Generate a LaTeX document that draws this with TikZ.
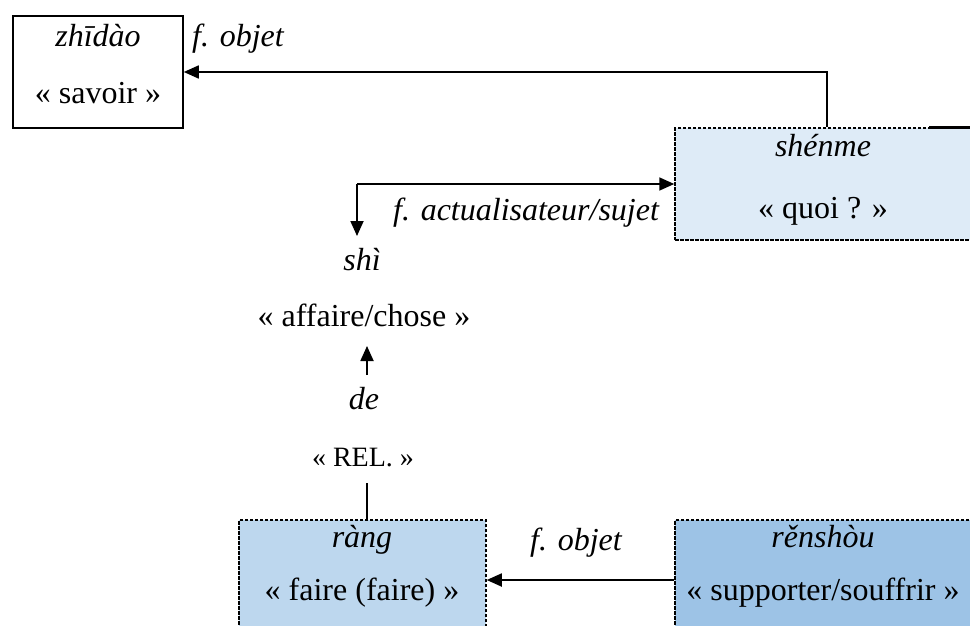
\documentclass[tikz,border=0pt]{standalone}
\usepackage{fontspec}
\newfontfamily\libserif{Liberation Serif}
\usetikzlibrary{arrows.meta,calc}
\definecolor{bluelight}{HTML}{DEEBF7}
\definecolor{bluemid}{HTML}{BDD7EE}
\definecolor{bluedark}{HTML}{9DC3E6}
\tikzset{
  solidbox/.style={draw=black, line width=1.6pt, inner sep=0pt, rectangle},
  dashbox/.style={draw=black, line width=1.5pt, dash pattern=on 3.5pt off 1.5pt, inner sep=0pt, rectangle},
  txt/.style={anchor=base, inner sep=0pt, font=\fontsize{32}{38}\selectfont\libserif},
  ittxt/.style={anchor=base, inner sep=0pt, font=\fontsize{32}{38}\selectfont\libserif\itshape},
  smalltxt/.style={anchor=base, inner sep=0pt, font=\fontsize{28}{34}\selectfont\libserif},
  lbl/.style={anchor=base west, inner sep=0pt, font=\fontsize{32}{38}\selectfont\libserif\itshape},
  conn/.style={line width=1.8pt},
  arr/.style={line width=1.8pt, -{Triangle[length=15pt,width=13pt]}},
}
\begin{document}
\begin{tikzpicture}[x=1pt,y=-1pt]
\useasboundingbox (0,0) rectangle (970,626);
\clip (0,0) rectangle (970,626);
% boxes
\node[solidbox, minimum width=170pt, minimum height=112pt] (zhidao) at (98,72) {};
\node[dashbox, fill=bluelight, minimum width=297pt, minimum height=112pt] (shenme) at (823.5,184) {};
\node[dashbox, fill=bluemid, minimum width=247pt, minimum height=120pt] (rang) at (362.5,580) {};
\node[dashbox, fill=bluedark, minimum width=297pt, minimum height=120pt] (renshou) at (823.5,580) {};
\draw[line width=2.5pt] ($(shenme.north west)+(255,0)$) -- ($(shenme.north east)+(5,0)$);
% texts
\node[ittxt] (t1) at (98,47) {zhīdào};
\node[txt] (t2) at (98,103) {« savoir »};
\node[lbl] (l1) at (192,47) {f. objet};
\node[ittxt] (t3) at (823,157) {shénme};
\node[txt] (t4) at (823,218) {« quoi ? »};
\node[lbl] (l2) at (393,220) {f. actualisateur/sujet};
\node[ittxt] (shi) at (362,270) {shì};
\node[txt] (affaire) at (364,326) {« affaire/chose »};
\node[ittxt] (de) at (364,409) {de};
\node[smalltxt] (rel) at (363,466) {« REL. »};
\node[ittxt] (t5) at (362,547) {ràng};
\node[txt] (t6) at (362,600) {« faire (faire) »};
\node[lbl] (l3) at (530,550) {f. objet};
\node[ittxt] (t7) at (823,547) {rěnshòu};
\node[txt] (t8) at (823,600) {« supporter/souffrir »};
% connectors
\coordinate (shitop) at (357,236);
\coordinate (detop) at (367,375);
\coordinate (affbot) at (367,346);
\coordinate (relbot) at (367,483);
\draw[arr] ($(shenme.north west)+(153,0)$) |- (zhidao.east);
\draw[arr] (shitop |- shenme.west) -- (shenme.west);
\draw[arr] (shitop |- shenme.west) -- (shitop);
\draw[arr] (detop) -- (affbot);
\draw[conn] (relbot) -- (relbot |- rang.north);
\draw[arr] (renshou.west) -- (rang.east);
\end{tikzpicture}
\end{document}
